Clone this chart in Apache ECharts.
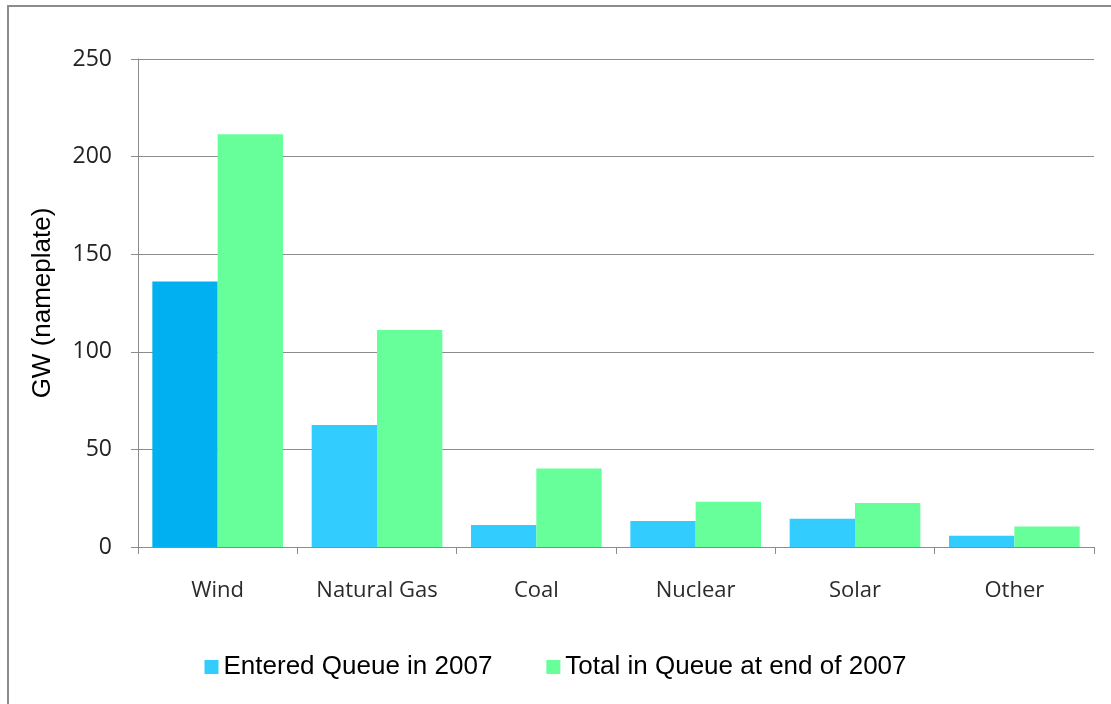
<!DOCTYPE html>
<html>
<head>
<meta charset="utf-8">
<script src="https://cdn.jsdelivr.net/npm/echarts@6/dist/echarts.min.js"></script>
<style>
	html, body { margin: 0; padding: 0; background: #fff; }
	#chart { width: 1111px; height: 704px; }
</style>
</head>
<body>
<div id="chart"></div>
<script>
const categories = ["Wind", "Natural Gas", "Coal", "Nuclear", "Solar", "Other"]
const enteredQueue = [136, 62.5, 11.3, 13.3, 14.5, 5.8]
const totalInQueue = [211.5, 111.2, 40.2, 23.2, 22.5, 10.5]
const yTicks = [0, 50, 100, 150, 200, 250]

const chart = echarts.init(document.getElementById("chart"))

// wind bar is a slightly darker blue in the original
const blueColors = ["#00B0F0", "#33CCFF", "#33CCFF", "#33CCFF", "#33CCFF", "#33CCFF"]

const option = {
	backgroundColor: "#fff",
	animation: false,
	graphic: [
		{
			type: "polyline",
			shape: { points: [[8, 704], [8, 6], [1111, 6]] },
			style: { stroke: "#8c8c8c", lineWidth: 2, fill: null }
		}
	],
	grid: {
		left: 138,
		right: 17,
		top: 59,
		bottom: 157
	},
	legend: {
		bottom: 19,
		left: "center",
		itemWidth: 14,
		itemHeight: 14,
		itemGap: 54,
		icon: "rect",
		textStyle: {
			fontFamily: "Liberation Sans",
			fontSize: 26,
			color: "#000"
		},
		data: [
			{ name: "Entered Queue in 2007", itemStyle: { color: "#33CCFF" } },
			{ name: "Total in Queue at end of 2007" }
		]
	},
	xAxis: {
		type: "category",
		data: categories,
		axisLine: { lineStyle: { color: "#8c8c8c", width: 1 } },
		axisTick: { show: true, length: 7, lineStyle: { color: "#8c8c8c" } },
		axisLabel: {
			margin: 33,
			fontFamily: "Open Sans",
			fontSize: 22,
			color: "#2b2b2b"
		}
	},
	yAxis: {
		type: "value",
		min: 0,
		max: 250,
		interval: 50,
		name: "GW (nameplate)",
		nameLocation: "middle",
		nameRotate: 90,
		nameGap: 82,
		nameTextStyle: {
			fontFamily: "Liberation Sans",
			fontSize: 26,
			color: "#000"
		},
		axisLine: { show: true, lineStyle: { color: "#8c8c8c", width: 1 } },
		axisTick: { show: true, length: 7, lineStyle: { color: "#8c8c8c" } },
		splitLine: { lineStyle: { color: "#8c8c8c", width: 1 } },
		axisLabel: {
			margin: 26,
			fontFamily: "Open Sans",
			fontSize: 23,
			color: "#222",
			formatter: function (v) {
				return yTicks.indexOf(v) >= 0 ? String(v) : ""
			}
		}
	},
	series: [
		{
			name: "Entered Queue in 2007",
			type: "bar",
			barGap: "0%",
			barCategoryGap: "18%",
			itemStyle: {
				color: function (params) {
					return blueColors[params.dataIndex]
				}
			},
			data: enteredQueue
		},
		{
			name: "Total in Queue at end of 2007",
			type: "bar",
			barGap: "0%",
			barCategoryGap: "18%",
			itemStyle: { color: "#66FF99" },
			data: totalInQueue
		}
	]
}

chart.setOption(option)
</script>
</body>
</html>
